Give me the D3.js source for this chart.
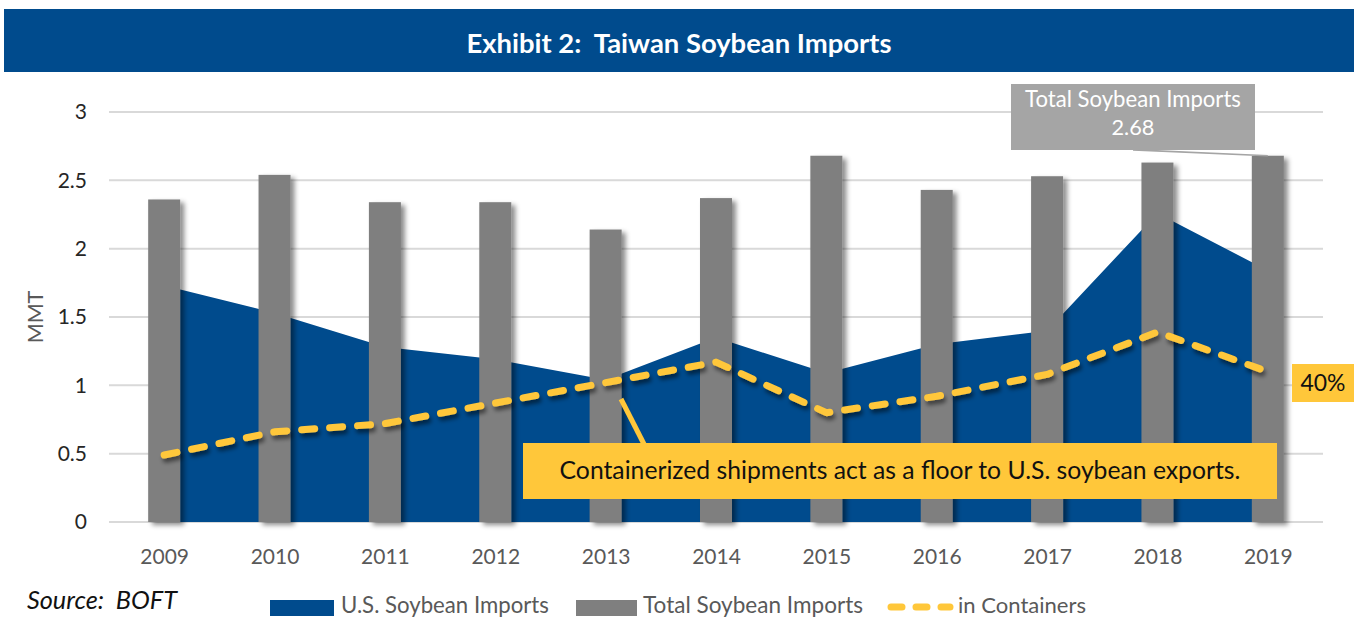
<!DOCTYPE html>
<html><head><meta charset="utf-8">
<script src="https://cdn.jsdelivr.net/npm/d3@7/dist/d3.min.js"></script>
<style>
html,body{margin:0;padding:0;background:#fff;}
svg{display:block;font-family:Lato,"Open Sans",sans-serif;}
text{white-space:pre;}
</style></head>
<body>
<svg id="chart" width="1354" height="619"></svg>
<script>
const years = ["2009","2010","2011","2012","2013","2014","2015","2016","2017","2018","2019"];
const usImports = [1.73,1.53,1.28,1.19,1.04,1.35,1.09,1.30,1.40,2.26,1.84];
const totalImports = [2.36,2.54,2.34,2.34,2.14,2.37,2.68,2.43,2.53,2.63,2.68];
const inContainers = [0.49,0.66,0.72,0.87,1.02,1.17,0.80,0.92,1.08,1.39,1.10];
const yTicks = [0,0.5,1,1.5,2,2.5,3];
const seriesNames = ["U.S. Soybean Imports","Total Soybean Imports","in Containers"];
const titleText = "Exhibit 2:  Taiwan Soybean Imports";
const noteText = "Containerized shipments act as a floor to U.S. soybean exports.";
const pctText = "40%";
const calloutLines = ["Total Soybean Imports","2.68"];
const sourceText = "Source:  BOFT";

const BLUE = "#004B8D", GRAY = "#7F7F7F", GOLD = "#FFC73A";
const svg = d3.select("#chart");

const defs = svg.append("defs");
const f1 = defs.append("filter").attr("id","barShadow").attr("x","-50%").attr("y","-10%").attr("width","200%").attr("height","130%");
f1.append("feDropShadow").attr("dx",4).attr("dy",3).attr("stdDeviation",2.5).attr("flood-color","#000").attr("flood-opacity",0.45);
const f2 = defs.append("filter").attr("id","lineShadow").attr("x","-10%").attr("y","-30%").attr("width","120%").attr("height","160%");
f2.append("feDropShadow").attr("dx",2).attr("dy",4).attr("stdDeviation",2).attr("flood-color","#000").attr("flood-opacity",0.5);

function fit(sel, w){
  sel.each(function(){
    const t = d3.select(this);
    const cur = this.getComputedTextLength();
    const fs = parseFloat(t.attr("font-size"));
    t.attr("font-size", (fs*w/cur).toFixed(2));
  });
}

// Title band
svg.append("rect").attr("x",4).attr("y",9).attr("width",1350).attr("height",63).attr("fill",BLUE);
const tt = svg.append("text").attr("x",679).attr("y",53).attr("text-anchor","middle")
  .attr("fill","#fff").attr("font-weight","bold").attr("font-size",24).text(titleText);
fit(tt, 425);

// Scales
const x = d3.scalePoint().domain(years).range([109,1323]).padding(0.5);
const y = d3.scaleLinear().domain([0,3]).range([522,112]);
const barW = x.step()*0.29;

// Grid
svg.append("g").selectAll("line").data(yTicks).join("line")
  .attr("x1",109).attr("x2",1323).attr("y1",d=>y(d)).attr("y2",d=>y(d))
  .attr("stroke","#D9D9D9").attr("stroke-width",2);

// Y axis labels
const yAxis = svg.append("g").attr("transform","translate(87,0)")
  .call(d3.axisLeft(y).tickValues(yTicks).tickSize(0).tickPadding(0).tickFormat(d3.format("")));
yAxis.select(".domain").remove();
yAxis.selectAll("text").attr("font-size",21).attr("fill","#262626").attr("font-family","Lato,sans-serif");

svg.append("text").attr("transform","translate(43,317) rotate(-90)").attr("text-anchor","middle")
  .attr("font-size",21.5).attr("fill","#595959").text("MMT");

// X axis labels
const xAxis = svg.append("g").attr("transform","translate(0,549)")
  .call(d3.axisBottom(x).tickSize(0).tickPadding(0));
xAxis.select(".domain").remove();
xAxis.selectAll("text").attr("font-size",21).attr("fill","#595959").attr("font-family","Lato,sans-serif");

// Area
const area = d3.area().x((d,i)=>x(years[i])).y0(y(0)).y1(d=>y(d));
svg.append("path").datum(usImports).attr("d",area).attr("fill",BLUE);

// Bars
svg.append("g").attr("filter","url(#barShadow)").selectAll("rect").data(totalImports).join("rect")
  .attr("x",(d,i)=>x(years[i])-barW/2).attr("width",barW)
  .attr("y",d=>y(d)).attr("height",d=>y(0)-y(d)).attr("fill",GRAY);

// Containers line
const line = d3.line().x((d,i)=>x(years[i])).y(d=>y(d));
svg.append("path").datum(inContainers).attr("d",line).attr("fill","none")
  .attr("stroke",GOLD).attr("stroke-width",7).attr("stroke-linecap","round").attr("stroke-linejoin","round")
  .attr("stroke-dasharray","13,15").attr("filter","url(#lineShadow)");

// Annotation connector + box
svg.append("line").attr("x1",621).attr("y1",399).attr("x2",648).attr("y2",452)
  .attr("stroke",GOLD).attr("stroke-width",5);
svg.append("rect").attr("x",523).attr("y",443).attr("width",754).attr("height",56).attr("fill",GOLD);
const nt = svg.append("text").attr("x",900).attr("y",479).attr("text-anchor","middle")
  .attr("font-size",22).attr("fill","#111").text(noteText);
fit(nt, 681);

// 40% label
svg.append("rect").attr("x",1292).attr("y",364).attr("width",62).attr("height",38).attr("fill",GOLD);
const pt = svg.append("text").attr("x",1323).attr("y",391).attr("text-anchor","middle")
  .attr("font-size",22).attr("fill","#111").text(pctText);
fit(pt, 45);

// Total callout
svg.append("path").attr("d",`M1133,150 L${x("2019")},${y(totalImports[10])} L1140,150 Z`)
  .attr("fill","#A5A5A5").attr("stroke","#A5A5A5").attr("stroke-width",1.5);
svg.append("rect").attr("x",1011).attr("y",84).attr("width",244).attr("height",66).attr("fill","#A5A5A5");
const ct = svg.append("g").selectAll("text").data(calloutLines).join("text")
  .attr("x",1133).attr("y",(d,i)=>107+i*28).attr("text-anchor","middle")
  .attr("font-size",20).attr("fill","#fff").text(d=>d);
fit(d3.select(ct.nodes()[0]), 216);
fit(d3.select(ct.nodes()[1]), 43);

// Source
const st = svg.append("text").attr("x",27).attr("y",609).attr("font-size",22).attr("font-style","italic")
  .attr("fill","#111").text(sourceText);
fit(st, 150);

// Legend
const lg = svg.append("g");
lg.append("rect").attr("x",270).attr("y",600).attr("width",64).attr("height",16).attr("fill",BLUE);
lg.append("rect").attr("x",576).attr("y",600).attr("width",61).attr("height",16).attr("fill",GRAY);
lg.append("line").attr("x1",891).attr("x2",950).attr("y1",607).attr("y2",607)
  .attr("stroke",GOLD).attr("stroke-width",7).attr("stroke-linecap","round").attr("stroke-dasharray","11,14");
const lx = [341,643,958], lw = [208,220,128];
lg.selectAll("text").data(seriesNames).join("text")
  .attr("x",(d,i)=>lx[i]).attr("y",613).attr("font-size",20).attr("fill","#595959").text(d=>d)
  .each(function(d,i){ fit(d3.select(this), lw[i]); });
</script>
</body></html>
